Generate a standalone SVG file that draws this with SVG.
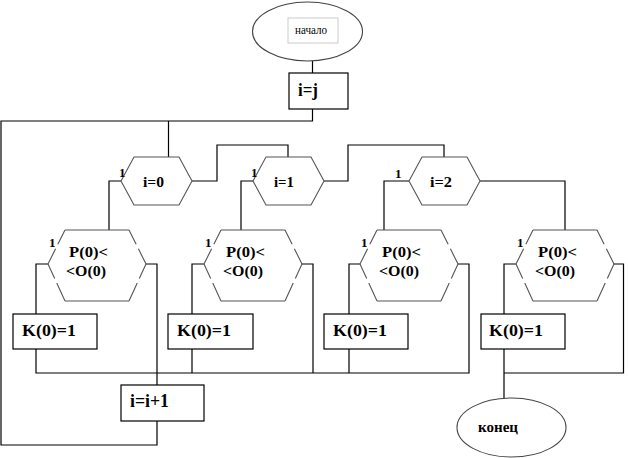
<svg xmlns="http://www.w3.org/2000/svg" xmlns:xlink="http://www.w3.org/1999/xlink" width="628" height="458" viewBox="0 0 628 458">
<style>
  .bg{fill:#fff}
  .box{fill:#fff;stroke:#000;stroke-width:1.2}
  .hex{fill:#fff;stroke:#555;stroke-width:1.1}
  .hexe{fill:none;stroke:#555;stroke-width:1.1}
  .dd{fill:none;stroke:#555;stroke-width:1.1;stroke-dasharray:16 5 40}
  .ell{fill:#fff;stroke:#444;stroke-width:1.1}
  .wire{fill:none;stroke:#000;stroke-width:1.2}
  .t{font-family:"Liberation Serif","Times New Roman",serif;font-weight:bold;fill:#000}
  .tn{font-family:"Liberation Serif","Times New Roman",serif;fill:#000}
</style>
<defs>
  <polygon id="hex1" points="0,0 13,-24 58,-24 71,0 58,24 13,24"/>
  <g id="phex">
    <polygon points="0,0 17,-34 81,-34 98,0 81,37 17,37" fill="#fff" stroke="none"/>
    <path class="hexe" d="M17 -34 H81 M17 37 H81"/>
    <path class="dd" d="M17 -34 L0 0"/>
    <path class="dd" d="M81 -34 L98 0"/>
    <path class="dd" d="M98 0 L81 37"/>
    <path class="dd" d="M0 0 L17 37"/>
  </g>
</defs>
<rect class="bg" x="0" y="0" width="628" height="458"/>

<g id="connectors">
  <path class="wire" d="M312.5 61 V73"/>
  <path class="wire" d="M312.5 109 V121 H1 V445 H157 V421"/>
  <path class="wire" d="M168.5 121 V157"/>
  <path class="wire" d="M192 181 H217 V145 H288 V157"/>
  <path class="wire" d="M324 181 H348 V145 H444 V160"/>
  <path class="wire" d="M480 181 H565 V230"/>
  <path class="wire" d="M121 181 H109 V230"/>
  <path class="wire" d="M253 181 H241 V230"/>
  <path class="wire" d="M409 181 H384 V230"/>
  <path class="wire" d="M48 264 H36 V314"/>
  <path class="wire" d="M36 349 V373 H469 V264 H458"/>
  <path class="wire" d="M146 264 H157 V385"/>
  <path class="wire" d="M204 264 H192 V314 M192 349 V373"/>
  <path class="wire" d="M302 264 H313 V373"/>
  <path class="wire" d="M360 264 H349 V314 M349 349 V373"/>
  <path class="wire" d="M516 264 H504 V314 M504 349 V398"/>
  <path class="wire" d="M614 264 H623.5 V373 H504"/>
</g>

<g id="start">
  <ellipse class="ell" cx="307.5" cy="31.5" rx="55" ry="29.5"/>
  <rect x="288" y="18" width="50" height="25" fill="#fff" stroke="#ccc" stroke-width="1"/>
  <text class="tn" x="295" y="34" font-size="12" textLength="32" lengthAdjust="spacingAndGlyphs">начало</text>
</g>

<g id="init">
  <rect class="box" x="289" y="73" width="59" height="36"/>
  <text class="t" x="298" y="96" font-size="19" textLength="20" lengthAdjust="spacingAndGlyphs">i=j</text>
</g>

<g id="cond-i0">
  <use href="#hex1" xlink:href="#hex1" class="hex" x="121" y="181"/>
  <text class="t" x="143" y="187" font-size="15" textLength="21" lengthAdjust="spacingAndGlyphs">i=0</text>
  <text class="t" x="119" y="177" font-size="13">1</text>
</g>
<g id="cond-i1">
  <use href="#hex1" xlink:href="#hex1" class="hex" x="253" y="181"/>
  <text class="t" x="274" y="187" font-size="15" textLength="20" lengthAdjust="spacingAndGlyphs">i=1</text>
  <text class="t" x="251" y="177" font-size="13">1</text>
</g>
<g id="cond-i2">
  <use href="#hex1" xlink:href="#hex1" class="hex" x="409" y="181"/>
  <text class="t" x="430" y="187" font-size="15" textLength="22" lengthAdjust="spacingAndGlyphs">i=2</text>
  <text class="t" x="395" y="178" font-size="13">1</text>
</g>

<g id="cmp1">
  <use href="#phex" xlink:href="#phex" x="48" y="264"/>
  <text class="t" x="69" y="257" font-size="15" textLength="39" lengthAdjust="spacingAndGlyphs">P(0)&lt;</text>
  <text class="t" x="66" y="276" font-size="15" textLength="40" lengthAdjust="spacingAndGlyphs">&lt;O(0)</text>
  <text class="t" x="49" y="247" font-size="13">1</text>
</g>
<g id="cmp2">
  <use href="#phex" xlink:href="#phex" x="204" y="264"/>
  <text class="t" x="226" y="257" font-size="15" textLength="39" lengthAdjust="spacingAndGlyphs">P(0)&lt;</text>
  <text class="t" x="223" y="276" font-size="15" textLength="40" lengthAdjust="spacingAndGlyphs">&lt;O(0)</text>
  <text class="t" x="205" y="247" font-size="13">1</text>
</g>
<g id="cmp3">
  <use href="#phex" xlink:href="#phex" x="360" y="264"/>
  <text class="t" x="382" y="257" font-size="15" textLength="39" lengthAdjust="spacingAndGlyphs">P(0)&lt;</text>
  <text class="t" x="379" y="276" font-size="15" textLength="40" lengthAdjust="spacingAndGlyphs">&lt;O(0)</text>
  <text class="t" x="361" y="247" font-size="13">1</text>
</g>
<g id="cmp4">
  <use href="#phex" xlink:href="#phex" x="516" y="264"/>
  <text class="t" x="538" y="257" font-size="15" textLength="39" lengthAdjust="spacingAndGlyphs">P(0)&lt;</text>
  <text class="t" x="535" y="276" font-size="15" textLength="40" lengthAdjust="spacingAndGlyphs">&lt;O(0)</text>
  <text class="t" x="517" y="247" font-size="13">1</text>
</g>

<g id="set1">
  <rect class="box" x="13" y="314" width="84" height="35"/>
  <text class="t" x="22" y="336" font-size="17" textLength="54" lengthAdjust="spacingAndGlyphs">K(0)=1</text>
</g>
<g id="set2">
  <rect class="box" x="168" y="314" width="85" height="35"/>
  <text class="t" x="177" y="336" font-size="17" textLength="54" lengthAdjust="spacingAndGlyphs">K(0)=1</text>
</g>
<g id="set3">
  <rect class="box" x="324" y="314" width="84" height="35"/>
  <text class="t" x="333" y="336" font-size="17" textLength="54" lengthAdjust="spacingAndGlyphs">K(0)=1</text>
</g>
<g id="set4">
  <rect class="box" x="481" y="314" width="84" height="35"/>
  <text class="t" x="489" y="336" font-size="17" textLength="54" lengthAdjust="spacingAndGlyphs">K(0)=1</text>
</g>

<g id="incr">
  <rect class="box" x="121" y="385" width="83" height="36"/>
  <text class="t" x="130" y="407" font-size="19" textLength="39" lengthAdjust="spacingAndGlyphs">i=i+1</text>
</g>

<g id="end">
  <ellipse class="ell" cx="511.5" cy="427.5" rx="54.5" ry="29.5"/>
  <text class="t" x="478" y="432" font-size="15" textLength="40" lengthAdjust="spacingAndGlyphs">конец</text>
</g>
</svg>
